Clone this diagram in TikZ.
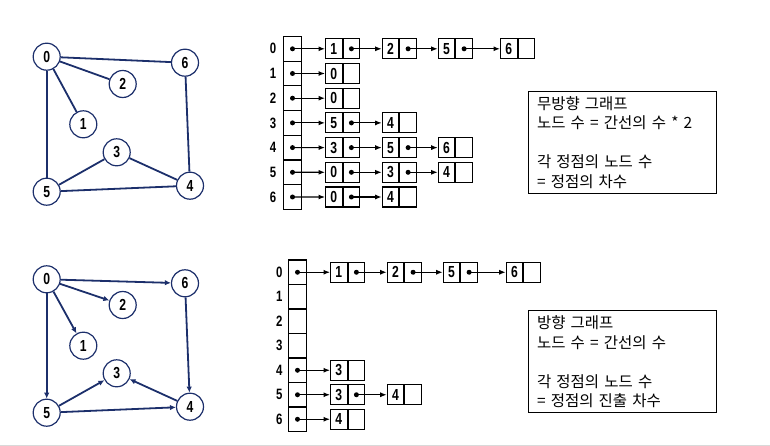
\documentclass[tikz,border=0pt]{standalone}
\usepackage{fontspec}
\newfontfamily\numfont{Liberation Sans}[FakeStretch=0.76]
\newfontfamily\kofont{Noto Sans CJK KR}[WordSpace=1.6]
\usetikzlibrary{arrows.meta,positioning}
\definecolor{navy}{HTML}{1C2F6B}

% one list node: data cell + pointer cell
\newcommand{\listnode}[4]{%
  \node[cell, anchor=west] (#1) at (#2,#3) {#4};
  \node[cell, right=0pt of #1] (#1p) {};}

\begin{document}
\begin{tikzpicture}[
  x=1pt, y=-1pt,
  >={Latex[length=6.5pt,width=5pt]},
  vertex/.style={circle, draw=navy, line width=1.2pt, fill=white,
    minimum size=27pt, inner sep=0pt, font=\numfont\bfseries\fontsize{16}{16}\selectfont},
  uline/.style={draw=navy, line width=1.8pt},
  dline/.style={uline, -{Latex[length=6pt,width=5.5pt]}},
  cell/.style={draw, line width=1.1pt, minimum width=16.5pt, minimum height=20pt,
    inner sep=0pt, font=\numfont\bfseries\fontsize{16}{16}\selectfont},
  slot/.style={draw, line width=1.1pt, minimum width=18.5pt, minimum height=24.6pt, inner sep=0pt},
  idx/.style={font=\numfont\bfseries\fontsize{15}{15}\selectfont},
  ptr/.style={->, line width=1.1pt},
  note/.style={draw, line width=0.9pt, align=left, text width=171pt, minimum height=102.3pt,
    inner xsep=8.4pt, font=\kofont\fontsize{15.5}{19.5}\selectfont},
]
\useasboundingbox (0,0) rectangle (770,446);

% undirected graph
\node[vertex] (u0) at (46.7,56.7) {0};
\node[vertex] (u6) at (185,62.7) {6};
\node[vertex] (u2) at (122.7,84) {2};
\node[vertex] (u1) at (83.3,124.3) {1};
\node[vertex] (u3) at (116.7,152.3) {3};
\node[vertex] (u5) at (46.7,191.7) {5};
\node[vertex] (u4) at (190,185.7) {4};
\draw[uline] (u0) -- (u6);
\draw[uline] (u0) -- (u2);
\draw[uline] (u0) -- (u1);
\draw[uline] (u0) -- (u5);
\draw[uline] (u6) -- (u4);
\draw[uline] (u3) -- (u5);
\draw[uline] (u3) -- (u4);
\draw[uline] (u5) -- (u4);

% directed graph
\node[vertex] (d0) at (46.7,279.3) {0};
\node[vertex] (d6) at (185,283.3) {6};
\node[vertex] (d2) at (122.7,305) {2};
\node[vertex] (d1) at (83.3,345.7) {1};
\node[vertex] (d3) at (116.7,373.3) {3};
\node[vertex] (d5) at (46.7,412.7) {5};
\node[vertex] (d4) at (190,406.7) {4};
\draw[dline] (d0) -- (d6);
\draw[dline] (d0) -- (d2);
\draw[dline] (d0) -- (d1);
\draw[dline] (d0) -- (d5);
\draw[dline] (d6) -- (d4);
\draw[dline] (d5) -- (d3);
\draw[dline] (d4) -- (d3);
\draw[dline] (d5) -- (d4);

% adjacency list, undirected
\foreach \i in {0,...,6} {
  \node[slot] (ta\i) at (292.5,{48.8+24.7*\i}) {};
  \node[idx] (tl\i) at (273,{48.8+24.7*\i}) {\i};
  \fill (ta\i) circle (2.5pt);
}
\listnode{t00}{325}{48.8}{1}
\listnode{t01}{381.7}{48.8}{2}
\listnode{t02}{437.7}{48.8}{5}
\listnode{t03}{500}{48.8}{6}
\listnode{t10}{325}{73.5}{0}
\listnode{t20}{325}{98.2}{0}
\listnode{t30}{325}{122.9}{5}
\listnode{t31}{381.7}{122.9}{4}
\listnode{t40}{325}{147.6}{3}
\listnode{t41}{381.7}{147.6}{5}
\listnode{t42}{437.7}{147.6}{6}
\listnode{t50}{325}{172.3}{0}
\listnode{t51}{381.7}{172.3}{3}
\listnode{t52}{437.7}{172.3}{4}
\listnode{t60}{325}{197}{0}
\listnode{t61}{381.7}{197}{4}
\foreach \i in {0,...,6}
  \draw[ptr] (ta\i.center) -- (t\i0.west);
\foreach \a/\b in {t00/t01, t01/t02, t02/t03, t30/t31, t40/t41, t41/t42,
                   t50/t51, t51/t52, t60/t61} {
  \fill (\a p) circle (2.5pt);
  \draw[ptr] (\a p.center) -- (\b.west);
}

% adjacency list, directed
\foreach \i in {0,...,6} {
  \node[slot, minimum height=24.5pt] (ba\i) at (297.5,{272.25+24.5*\i}) {};
  \node[idx] (bl\i) at (279.3,{272.25+24.5*\i}) {\i};
}
\listnode{b00}{330}{272.25}{1}
\listnode{b01}{386.7}{272.25}{2}
\listnode{b02}{442.7}{272.25}{5}
\listnode{b03}{505.7}{272.25}{6}
\listnode{b40}{330}{370.25}{3}
\listnode{b50}{330}{394.75}{3}
\listnode{b51}{386.7}{394.75}{4}
\listnode{b60}{330}{419.25}{4}
\foreach \i in {0,4,5,6} {
  \fill (ba\i) circle (2.5pt);
  \draw[ptr] (ba\i.center) -- (b\i0.west);
}
\foreach \a/\b in {b00/b01, b01/b02, b02/b03, b50/b51} {
  \fill (\a p) circle (2.5pt);
  \draw[ptr] (\a p.center) -- (\b.west);
}

% notes
\node[note] (tnote) at (622.5,142.2)
  {무방향 그래프\\노드 수 = 간선의 수 * 2\\[19.5pt]각 정점의 노드 수\\= 정점의 차수};
\node[note] (bnote) at (622.5,361.7)
  {방향 그래프\\노드 수 = 간선의 수\\[19.5pt]각 정점의 노드 수\\= 정점의 진출 차수};

\draw[black!15, line width=1pt] (0,445) -- (770,445);
\end{tikzpicture}
\end{document}
